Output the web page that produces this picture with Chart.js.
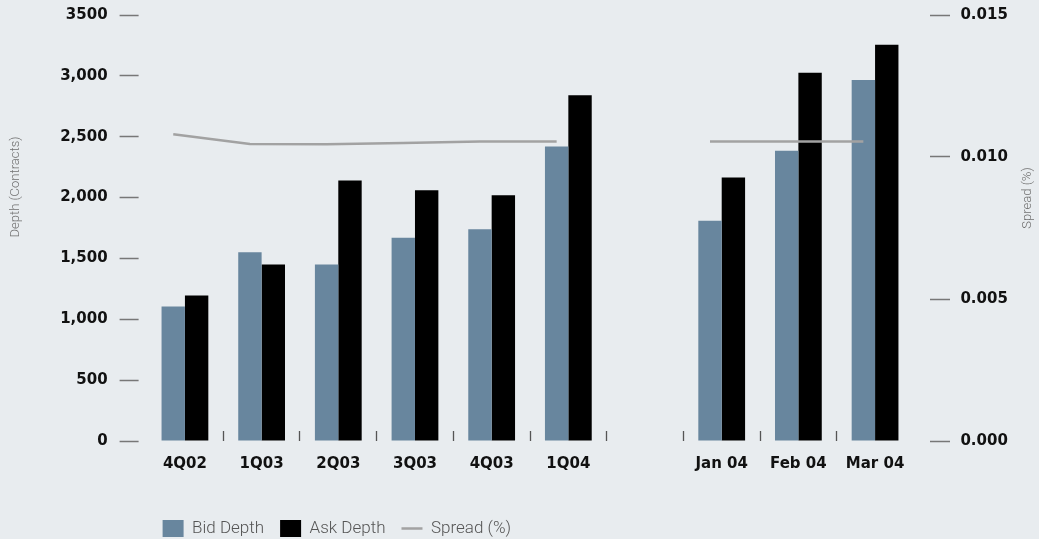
<!DOCTYPE html>
<html>
<head>
<meta charset="utf-8">
<script src="https://cdn.jsdelivr.net/npm/chart.js@4.4.0/dist/chart.umd.min.js"></script>
<style>
  html, body { margin: 0; padding: 0; background: #e8ecef; }
  #wrap { width: 1039px; height: 539px; position: relative; }
</style>
</head>
<body>
<div id="wrap"><canvas id="chart"></canvas></div>
<script>
// periods: quarters, an empty slot, then months
const periods = ['4Q02', '1Q03', '2Q03', '3Q03', '4Q03', '1Q04', '', 'Jan 04', 'Feb 04', 'Mar 04'];
const bidDepth = [1105, 1550, 1450, 1670, 1740, 2420, null, 1810, 2385, 2965];
const askDepth = [1195, 1450, 2140, 2060, 2020, 2840, null, 2165, 3025, 3255];
const spreadPct = [0.0108, 0.01046, 0.01045, 0.01049, 0.01055, 0.01055, null, 0.01055, 0.01055, 0.01055];

// axis tick labels
const depthTicks = ['0', '500', '1,000', '1,500', '2,000', '2,500', '3,000', '3500'];
const spreadTicks = ['0.000', '0.005', '0.010', '0.015'];

const groupWidth = 0.61; // share of each category used by the bar pair

const boldFont = { family: 'DejaVu Sans', size: 15, weight: 'bold' };
const lightFont = { family: 'Roboto', size: 17, weight: '300' };

// the spread line is drawn over the bid bar of each pair
const shiftSpread = {
    id: 'shiftSpread',
    beforeDatasetDraw(chart, args) {
        if (args.meta.type !== 'line') return;
        const x = chart.scales.x;
        const dx = x.width / periods.length * groupWidth / 4;
        chart.ctx.save();
        chart.ctx.translate(-dx, 0);
    },
    afterDatasetDraw(chart, args) {
        if (args.meta.type !== 'line') return;
        chart.ctx.restore();
    }
};

// rotated axis titles (both read bottom to top)
const axisTitles = {
    id: 'axisTitles',
    afterDraw(chart) {
        const ctx = chart.ctx;
        ctx.save();
        ctx.font = '300 13px Roboto';
        ctx.fillStyle = '#707070';
        ctx.textAlign = 'center';
        ctx.textBaseline = 'middle';
        [['Depth (Contracts)', 16, 187], ['Spread (%)', 1028, 198]].forEach(([text, x, y]) => {
            ctx.save();
            ctx.translate(x, y);
            ctx.rotate(-Math.PI / 2);
            ctx.fillText(text, 0, 0);
            ctx.restore();
        });
        ctx.restore();
    }
};

// fixed side widths, no extra room reserved for the end labels
const fitSide = (width) => (s) => {
    s.width = width;
    s.paddingTop = 0;
    s.paddingBottom = 0;
};

const config = {
    type: 'bar',
    data: {
        labels: periods,
        datasets: [{
            label: 'Bid Depth',
            data: bidDepth,
            backgroundColor: '#68869e',
            pointStyle: 'rect',
            yAxisID: 'y',
            order: 1
        }, {
            label: 'Ask Depth',
            data: askDepth,
            backgroundColor: '#000000',
            pointStyle: 'rect',
            yAxisID: 'y',
            order: 1
        }, {
            type: 'line',
            label: 'Spread (%)',
            data: spreadPct,
            yAxisID: 'y2',
            borderColor: '#a2a2a2',
            borderWidth: 2.5,
            pointRadius: 0,
            pointHoverRadius: 0,
            pointStyle: 'line',
            pointBorderColor: '#a2a2a2',
            pointBorderWidth: 2.5,
            tension: 0,
            order: 0
        }]
    },
    options: {
        responsive: true,
        maintainAspectRatio: false,
        animation: false,
        categoryPercentage: groupWidth,
        barPercentage: 1.0,
        layout: { padding: { top: 15, left: 0, right: 0, bottom: -8 } },
        scales: {
            x: {
                type: 'category',
                offset: true,
                border: { display: false },
                grid: {
                    offset: true,
                    drawOnChartArea: false,
                    tickLength: -10,
                    tickWidth: 1.3,
                    // no marks on the outer edges
                    tickColor: (ctx) => (ctx.index === undefined || ctx.index === 0) ? 'rgba(0,0,0,0)' : '#555'
                },
                ticks: {
                    font: boldFont,
                    color: '#111',
                    padding: 24,
                    autoSkip: false,
                    maxRotation: 0
                },
                afterFit: (s) => { s.height = 63; }
            },
            y: {
                position: 'left',
                min: 0,
                max: 3500,
                border: { display: false },
                grid: {
                    drawOnChartArea: false,
                    tickLength: 27,
                    tickBorderDash: [19, 100],
                    tickColor: '#777',
                    tickWidth: 1.5
                },
                ticks: {
                    stepSize: 500,
                    font: boldFont,
                    color: '#111',
                    padding: 12,
                    callback: (v, i) => depthTicks[i]
                },
                afterFit: fitSide(146.6)
            },
            y2: {
                position: 'right',
                min: 0,
                max: 0.015,
                border: { display: false },
                grid: {
                    drawOnChartArea: false,
                    tickLength: 37,
                    tickBorderDash: [20, 17],
                    tickBorderDashOffset: 20,
                    tickColor: '#777',
                    tickWidth: 1.5
                },
                ticks: {
                    stepSize: 0.005,
                    font: boldFont,
                    color: '#111',
                    padding: 10,
                    callback: (v, i) => spreadTicks[i]
                },
                afterFit: fitSide(125.6)
            }
        },
        plugins: {
            legend: {
                position: 'bottom',
                align: 'start',
                fullSize: false,
                labels: {
                    usePointStyle: true,
                    pointStyleWidth: 21,
                    boxHeight: 17,
                    padding: 16,
                    font: lightFont,
                    color: '#555',
                    sort: (a, b) => a.datasetIndex - b.datasetIndex
                }
            },
            tooltip: { enabled: false }
        }
    },
    plugins: [shiftSpread, axisTitles]
};

const chart = new Chart(document.getElementById('chart').getContext('2d'), config);
</script>
</body>
</html>
